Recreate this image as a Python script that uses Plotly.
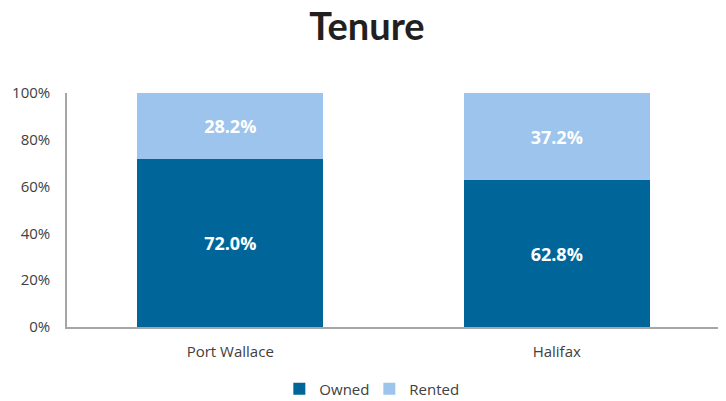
import plotly.graph_objects as go

categories = ["Port Wallace", "Halifax"]
owned = [72.0, 62.8]
rented = [28.2, 37.2]
y_ticks = [0, 20, 40, 60, 80, 100]
y_tick_labels = ["0%", "20%", "40%", "60%", "80%", "100%"]

label_font = dict(family="Open Sans", size=18, color="white", weight="bold")

fig = go.Figure()
fig.add_trace(go.Bar(
    x=categories, y=owned, name="Owned",
    marker=dict(color="#006699", line=dict(width=0)),
    texttemplate="%{y:.1f}%", textposition="inside", insidetextanchor="middle",
    textangle=0, textfont=label_font,
))
fig.add_trace(go.Bar(
    x=categories, y=rented, name="Rented",
    marker=dict(color="#9DC4EC", line=dict(width=0)),
    texttemplate="%{y:.1f}%", textposition="inside", insidetextanchor="middle",
    textangle=0, textfont=label_font,
))

# page body has an 8px default margin, so the figure is drawn 8px in from top-left
W, H = 718, 393
fig.update_layout(
    barmode="stack",
    bargap=0.43,
    width=W, height=H,
    margin=dict(l=59, r=6, t=85, b=74, autoexpand=False),
    paper_bgcolor="white", plot_bgcolor="white",
    title=dict(text="<b>Tenure</b>", x=0.5, xanchor="center", y=1 - 18.5 / H, yanchor="middle",
               font=dict(family="Lato", size=38, color="#231F20")),
    font=dict(family="Open Sans", size=15, color="#404040"),
    legend=dict(orientation="h", x=0.463, xanchor="center", y=-0.265, yanchor="middle",
                font=dict(size=15, color="#404040"), traceorder="normal",
                itemwidth=30, entrywidth=45, entrywidthmode="pixels"),
    uniformtext=dict(minsize=8, mode="show"),
)
fig.update_xaxes(showline=True, linecolor="#A6A6A6", linewidth=1.5, ticks="",
                 tickfont=dict(size=15, color="#404040"), showgrid=False,
                 automargin=False, ticklabelstandoff=10)
fig.update_yaxes(range=[0, 100], tickvals=y_ticks, ticktext=y_tick_labels,
                 showline=True, linecolor="#A6A6A6", linewidth=1.5, showgrid=False,
                 ticks="", ticklen=0, tickfont=dict(size=15, color="#404040"),
                 zeroline=False, automargin=False, ticklabelstandoff=12)

fig.write_html("out.html")
